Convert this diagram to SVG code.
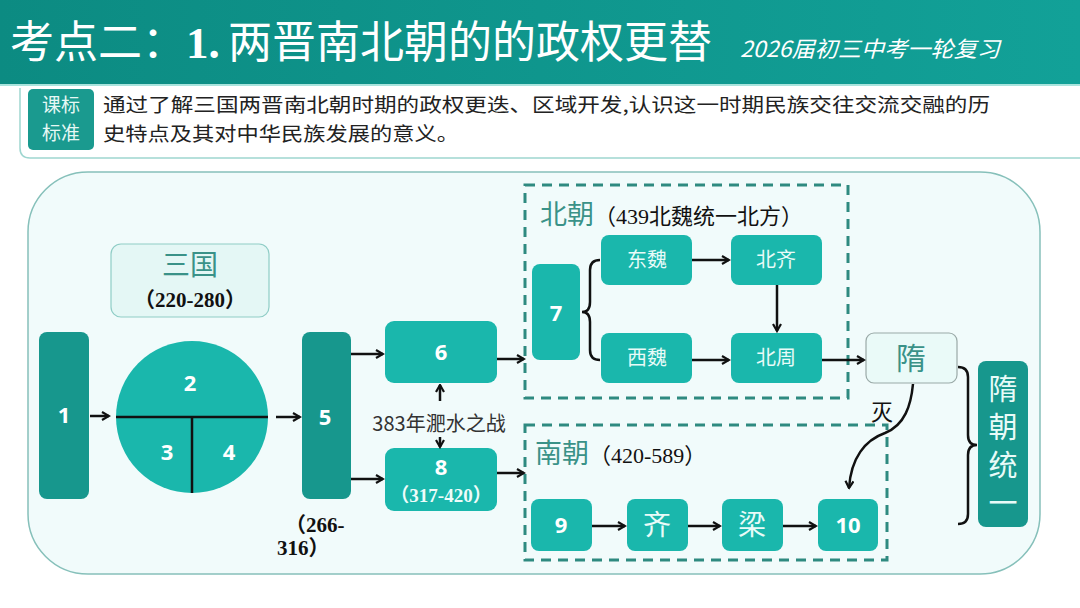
<svg xmlns="http://www.w3.org/2000/svg" width="1080" height="608" viewBox="0 0 1080 608">
<defs>
<linearGradient id="hdr" x1="0" y1="0" x2="1" y2="0">
<stop offset="0" stop-color="#0c8b82"/>
<stop offset="1" stop-color="#12a198"/>
</linearGradient>
<marker id="ah" viewBox="0 0 10 10" refX="8.5" refY="5" markerWidth="10" markerHeight="10" markerUnits="userSpaceOnUse" orient="auto">
<path d="M1.5,1 L8.5,5 L1.5,9" fill="none" stroke="#111" stroke-width="2.2" stroke-linejoin="miter"/>
</marker>
<style>
.sans{font-family:"Noto Sans CJK SC","Noto Sans",sans-serif}
.num{font-family:"Open Sans","Noto Sans",sans-serif;font-weight:700;font-size:22px;fill:#fff;text-anchor:middle}
.dark{fill:#17978d}
.light{fill:#1ab7ac}
.lbl{font-family:"Noto Sans CJK SC",sans-serif;font-size:20px;fill:#e8fbf8;text-anchor:middle}
.big{font-family:"Noto Sans CJK SC",sans-serif;font-size:28px;fill:#e8fbf8;text-anchor:middle}
.bserif{font-family:"Liberation Serif","Noto Sans CJK SC",serif;font-weight:700}
.serif{font-family:"Liberation Serif","Noto Sans CJK SC",serif}
.dash{fill:none;stroke:#2e8a80;stroke-width:3;stroke-dasharray:10 7}
.conn{fill:none;stroke:#111;stroke-width:2.5}
.teal{fill:#3a9288}
</style>
</defs>
<rect width="1080" height="608" fill="#ffffff"/>
<g id="header">
<rect x="0" y="0" width="1080" height="84" fill="url(#hdr)"/>
<rect x="0" y="84" width="1080" height="2" fill="#a9e4dd"/>
<text x="10" y="58" class="sans" font-size="44" fill="#ffffff">考点二：<tspan class="bserif" font-size="45">1.</tspan><tspan x="228">两晋南北朝的的政权更替</tspan></text>
<text x="740" y="57" class="sans" font-size="22" font-style="italic" fill="#ffffff" textLength="260" lengthAdjust="spacingAndGlyphs">2026届初三中考一轮复习</text>
</g>
<g id="standard">
<path d="M1082,158 L30,158 Q20,158 20,148 L20,88" fill="#ffffff" stroke="#9ed6d0" stroke-width="1.5"/>
<rect x="28" y="89" width="66" height="61" rx="5" fill="#1a9a8f"/>
<text x="61" y="112" class="sans" font-size="19" fill="#e6f8f5" text-anchor="middle">课标<tspan x="61" dy="28">标准</tspan></text>
<text x="103" y="112" class="sans" font-size="19.5" fill="#222"><tspan textLength="887" lengthAdjust="spacingAndGlyphs">通过了解三国两晋南北朝时期的政权更迭、区域开发,认识这一时期民族交往交流交融的历</tspan><tspan x="103" dy="28.5" textLength="356" lengthAdjust="spacingAndGlyphs">史特点及其对中华民族发展的意义。</tspan></text>
</g>
<g id="panel">
<rect x="28" y="172" width="1012" height="402" rx="60" fill="#f1fbfb" stroke="#86c0ba" stroke-width="1.5"/>
</g>
<g id="north-box">
<rect x="525" y="185" width="323" height="213" class="dash"/>
<text x="540" y="224" class="sans teal" font-size="27">北朝<tspan class="serif" font-size="22" fill="#111">（439北魏统一北方）</tspan></text>
</g>
<g id="south-box">
<rect x="525" y="425" width="362" height="135" class="dash"/>
<text x="535" y="463" class="sans teal" font-size="27">南朝<tspan class="serif" font-size="22" fill="#111">（420-589）</tspan></text>
</g>
<g id="n1"><rect x="39" y="332" width="50" height="167" rx="8" class="dark"/><text x="64" y="423" class="num">1</text></g>
<g id="sanguo"><rect x="111" y="244" width="158" height="73" rx="10" fill="#e4f7f5" stroke="#8fcdc6" stroke-width="1.2"/><text x="190" y="275" class="sans teal" font-size="28" text-anchor="middle">三国</text><text x="190" y="307" class="bserif" font-size="21" fill="#111" text-anchor="middle">（220-280）</text></g>
<g id="circle">
<circle cx="192" cy="417" r="76" class="light"/>
<path d="M116,417 H268 M192,417 V493" fill="none" stroke="#111" stroke-width="2.5"/>
<text x="190" y="391" class="num">2</text>
<text x="167" y="460" class="num">3</text>
<text x="229" y="460" class="num">4</text>
</g>
<g id="n5"><rect x="302" y="332" width="49" height="167" rx="8" class="dark"/><text x="325" y="425" class="num">5</text><text x="285" y="532" class="bserif" font-size="21" fill="#111">（266-<tspan x="277" dy="23">316）</tspan></text></g>
<g id="n6"><rect x="385" y="321" width="112" height="62" rx="9" class="light"/><text x="441" y="360" class="num">6</text></g>
<g id="n8"><rect x="385" y="448" width="112" height="63" rx="9" class="light"/><text x="441" y="475" class="num">8</text><text x="441" y="502" class="bserif" font-size="19" fill="#eefcfa" text-anchor="middle">（317-420）</text></g>
<g id="feishui"><text x="439" y="431" class="sans" font-size="20" fill="#333" text-anchor="middle">383年淝水之战</text></g>
<g id="n7"><rect x="532" y="264" width="48" height="96" rx="8" class="light"/><text x="556" y="321" class="num">7</text></g>
<g id="dongwei"><rect x="601" y="235" width="91" height="50" rx="8" class="light"/><text x="647" y="267" class="lbl">东魏</text></g>
<g id="beiqi"><rect x="731" y="235" width="91" height="50" rx="8" class="light"/><text x="776" y="267" class="lbl">北齐</text></g>
<g id="xiwei"><rect x="601" y="333" width="91" height="50" rx="8" class="light"/><text x="647" y="365" class="lbl">西魏</text></g>
<g id="beizhou"><rect x="731" y="333" width="91" height="50" rx="8" class="light"/><text x="776" y="365" class="lbl">北周</text></g>
<g id="sui"><rect x="866" y="333" width="91" height="50" rx="8" fill="#eafaf8" stroke="#9aa9a7" stroke-width="1.2"/><text x="911" y="369" class="sans teal" font-size="30" text-anchor="middle">隋</text></g>
<g id="suiunify"><rect x="978" y="361" width="50" height="166" rx="8" class="dark"/>
<text x="1003" y="374" class="sans" font-size="29" fill="#e8fbf8" style="writing-mode:vertical-rl;letter-spacing:9px">隋朝统一</text></g>
<g id="n9"><rect x="531" y="499" width="61" height="52" rx="8" class="light"/><text x="561" y="533" class="num">9</text></g>
<g id="qi"><rect x="627" y="499" width="61" height="52" rx="8" class="light"/><text x="657" y="535" class="big">齐</text></g>
<g id="liang"><rect x="722" y="499" width="61" height="52" rx="8" class="light"/><text x="752" y="535" class="big">梁</text></g>
<g id="n10"><rect x="818" y="499" width="60" height="52" rx="8" class="light"/><text x="848" y="533" class="num">10</text></g>
<g id="connectors">
<path d="M90,416 H109" class="conn" marker-end="url(#ah)"/>
<path d="M276,417 H300" class="conn" marker-end="url(#ah)"/>
<path d="M351,354 H383" class="conn" marker-end="url(#ah)"/>
<path d="M351,479 H383" class="conn" marker-end="url(#ah)"/>
<path d="M497,359 H524" class="conn" marker-end="url(#ah)"/>
<path d="M497,473 H524" class="conn" marker-end="url(#ah)"/>
<path d="M440,401 V385" class="conn" marker-end="url(#ah)"/>
<path d="M440,437 V447" class="conn" marker-end="url(#ah)"/>
<path d="M600,260 Q590,260 590,270 L590,302 Q590,312 582,312 Q590,312 590,322 L590,350 Q590,360 600,360" class="conn"/>
<path d="M692,260 H729" class="conn" marker-end="url(#ah)"/>
<path d="M777,285 V331" class="conn" marker-end="url(#ah)"/>
<path d="M692,360 H729" class="conn" marker-end="url(#ah)"/>
<path d="M822,360 H864" class="conn" marker-end="url(#ah)"/>
<path d="M592,526 H625" class="conn" marker-end="url(#ah)"/>
<path d="M688,526 H720" class="conn" marker-end="url(#ah)"/>
<path d="M783,526 H816" class="conn" marker-end="url(#ah)"/>
<path d="M913,384 C911,405 905,425 885,433 C865,440 851,458 849,488" class="conn" marker-end="url(#ah)"/>
<text x="882" y="420" class="sans" font-size="22" fill="#111" text-anchor="middle">灭</text>
<path d="M958,367 Q968,367 968,377 L968,435 Q968,445 977,445 Q968,445 968,455 L968,514 Q968,524 958,524" class="conn"/>
</g>
</svg>
